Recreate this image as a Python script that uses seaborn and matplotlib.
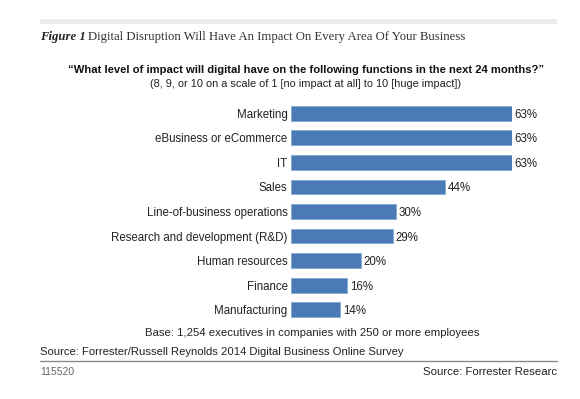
import pandas as pd
import seaborn as sns
import matplotlib.pyplot as plt
from matplotlib.patches import Rectangle
from matplotlib.lines import Line2D

functions = ['Marketing', 'eBusiness or eCommerce', 'IT', 'Sales',
             'Line-of-business operations', 'Research and development (R&D)',
             'Human resources', 'Finance', 'Manufacturing']
pct = [63, 63, 63, 44, 30, 29, 20, 16, 14]

df = pd.DataFrame({'function': functions, 'pct': pct})

sns.set_style('white')
plt.rcParams['font.family'] = ['Liberation Sans', 'DejaVu Sans']

W, H = 580, 399
fig = plt.figure(figsize=(5.8, 3.99), dpi=100)

def fx(px):
    return px / W

def fy(py):
    return 1 - py / H

# plot area: bars start at x=291 px, 63% ends at 512 px
ax = fig.add_axes([fx(291), fy(322), fx(512 - 291), fy(101) - fy(322)])
sns.barplot(data=df, x='pct', y='function', orient='h', color='#4a7bb6',
            width=0.6, edgecolor='#86a8d0', linewidth=0.6, saturation=1, ax=ax)
ax.set_xlim(0, 63)
ax.set_xlabel('')
ax.set_ylabel('')
ax.set_xticks([])
ax.tick_params(axis='y', length=0, pad=2.5, labelsize=8.3, labelcolor='#222222')
sns.despine(ax=ax, left=True, bottom=True)
ax.patch.set_alpha(0)

for i, v in enumerate(pct):
    ax.annotate(f'{v}%', (v, i), xytext=(2, 0), textcoords='offset points',
                va='center_baseline', ha='left', fontsize=8.3, color='#222222')

# header band and figure title
fig.patches.append(Rectangle((fx(40), fy(24)), fx(557 - 40), fy(19) - fy(24),
                             transform=fig.transFigure, color='#ebebeb', lw=0))
fig.text(fx(40), fy(37), 'Figure 1', family=['Liberation Serif', 'DejaVu Serif'],
         style='italic', weight='bold', fontsize=9.2, color='#222222', va='center')
fig.text(fx(88), fy(37), 'Digital Disruption Will Have An Impact On Every Area Of Your Business',
         family=['Liberation Serif', 'DejaVu Serif'], fontsize=9.2, color='#333333', va='center')

fig.text(fx(306), fy(70), '\u201cWhat level of impact will digital have on the following functions in the next 24 months?\u201d',
         ha='center', va='center', fontsize=8.1, weight='bold', color='#111111')
fig.text(fx(306), fy(84), '(8, 9, or 10 on a scale of 1 [no impact at all] to 10 [huge impact])',
         ha='center', va='center', fontsize=7.9, color='#222222')

fig.text(fx(312), fy(333), 'Base: 1,254 executives in companies with 250 or more employees',
         ha='center', va='center', fontsize=8.2, color='#222222')
fig.text(fx(40), fy(352), 'Source: Forrester/Russell Reynolds 2014 Digital Business Online Survey',
         va='center', fontsize=8.1, color='#222222')
fig.lines.append(Line2D([fx(40), fx(557)], [fy(361), fy(361)], transform=fig.transFigure,
                        color='#8a8a8a', lw=1))
fig.text(fx(40), fy(372), '115520', va='center', fontsize=7.5, color='#666666')
fig.text(fx(557), fy(372), 'Source: Forrester Researc', ha='right', va='center',
         fontsize=8.2, color='#222222')

fig.savefig('out.png', dpi=100)
